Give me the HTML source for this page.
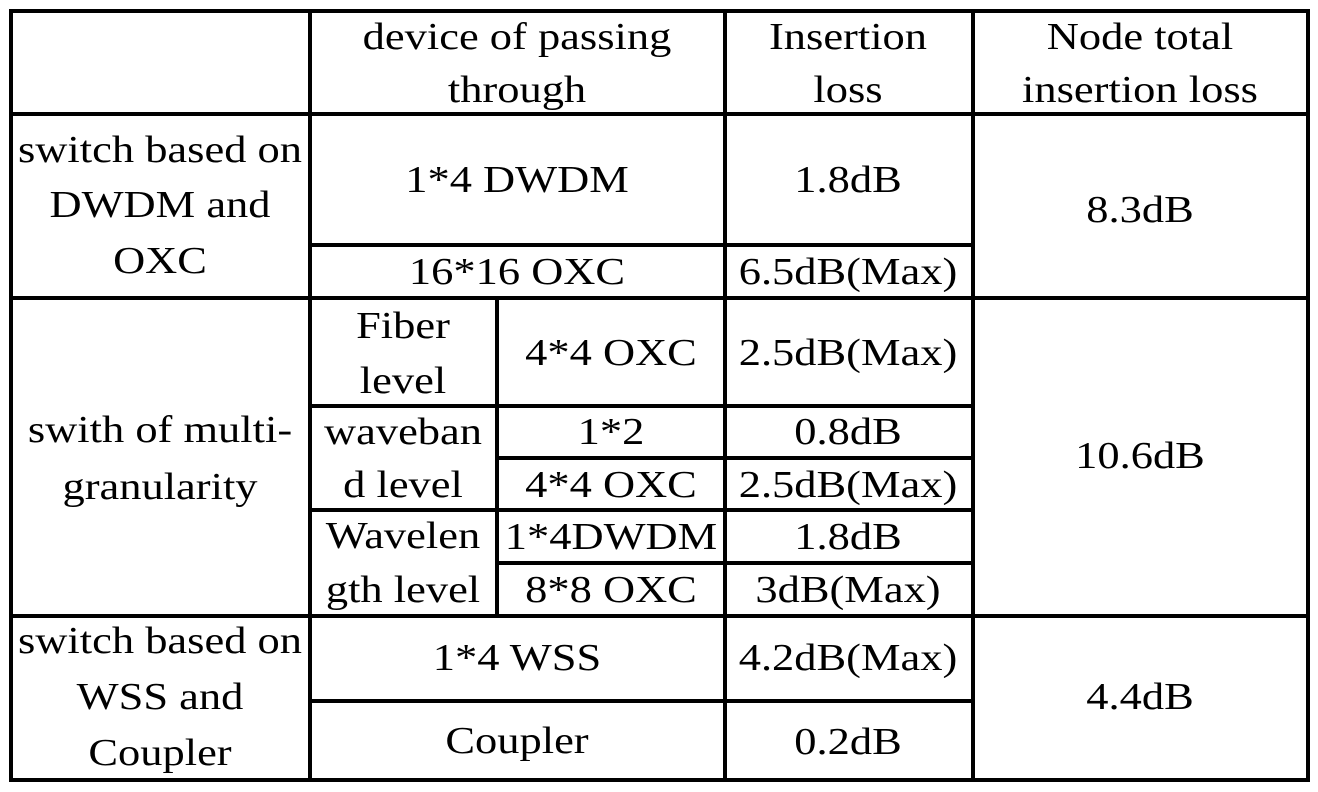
<!DOCTYPE html>
<html><head><meta charset="utf-8">
<style>
html,body{margin:0;padding:0;background:#fff;}
#t{position:relative;width:1318px;height:792px;overflow:hidden;font-family:"Liberation Serif",serif;font-size:38px;color:#000;}
.h{position:absolute;height:4px;background:#000;}
.v{position:absolute;width:4px;background:#000;}
.x{position:absolute;transform:translate(-50%,-50%) scaleX(1.17);white-space:nowrap;line-height:1;}
</style></head>
<body>
<div id="t">
<div class="h" style="left:10px;width:1300px;top:9px"></div>
<div class="h" style="left:10px;width:1300px;top:112px"></div>
<div class="h" style="left:310px;width:664px;top:243px"></div>
<div class="h" style="left:10px;width:1300px;top:296px"></div>
<div class="h" style="left:310px;width:664px;top:404px"></div>
<div class="h" style="left:497px;width:477px;top:456px"></div>
<div class="h" style="left:310px;width:664px;top:508px"></div>
<div class="h" style="left:497px;width:477px;top:561px"></div>
<div class="h" style="left:10px;width:1300px;top:614px"></div>
<div class="h" style="left:310px;width:664px;top:699px"></div>
<div class="h" style="left:10px;width:1300px;top:778px"></div>
<div class="v" style="left:9px;top:9px;height:773px"></div>
<div class="v" style="left:308px;top:9px;height:773px"></div>
<div class="v" style="left:723px;top:9px;height:773px"></div>
<div class="v" style="left:971px;top:9px;height:773px"></div>
<div class="v" style="left:1306px;top:9px;height:773px"></div>
<div class="v" style="left:495px;top:296px;height:320px"></div>

<div class="x" style="left:517px;top:37px">device of passing</div>
<div class="x" style="left:517px;top:90px">through</div>
<div class="x" style="left:848px;top:37px">Insertion</div>
<div class="x" style="left:848px;top:90px">loss</div>
<div class="x" style="left:1140px;top:37px">Node total</div>
<div class="x" style="left:1140px;top:90px">insertion loss</div>

<div class="x" style="left:160px;top:150px">switch based on</div>
<div class="x" style="left:160px;top:205px">DWDM and</div>
<div class="x" style="left:160px;top:261px">OXC</div>
<div class="x" style="left:517px;top:180px">1*4 DWDM</div>
<div class="x" style="left:848px;top:180px">1.8dB</div>
<div class="x" style="left:1140px;top:210px">8.3dB</div>
<div class="x" style="left:517px;top:272px">16*16 OXC</div>
<div class="x" style="left:848px;top:272px">6.5dB(Max)</div>

<div class="x" style="left:160px;top:430px">swith of multi-</div>
<div class="x" style="left:160px;top:487px">granularity</div>
<div class="x" style="left:403px;top:326px">Fiber</div>
<div class="x" style="left:403px;top:381px">level</div>
<div class="x" style="left:611px;top:353px">4*4 OXC</div>
<div class="x" style="left:848px;top:353px">2.5dB(Max)</div>
<div class="x" style="left:403px;top:432px">waveban</div>
<div class="x" style="left:403px;top:485px">d level</div>
<div class="x" style="left:611px;top:432px">1*2</div>
<div class="x" style="left:848px;top:432px">0.8dB</div>
<div class="x" style="left:611px;top:485px">4*4 OXC</div>
<div class="x" style="left:848px;top:485px">2.5dB(Max)</div>
<div class="x" style="left:403px;top:536px">Wavelen</div>
<div class="x" style="left:403px;top:590px">gth level</div>
<div class="x" style="left:611px;top:537px">1*4DWDM</div>
<div class="x" style="left:848px;top:537px">1.8dB</div>
<div class="x" style="left:611px;top:590px">8*8 OXC</div>
<div class="x" style="left:848px;top:590px">3dB(Max)</div>
<div class="x" style="left:1140px;top:456px">10.6dB</div>

<div class="x" style="left:160px;top:641px">switch based on</div>
<div class="x" style="left:160px;top:697px">WSS and</div>
<div class="x" style="left:160px;top:753px">Coupler</div>
<div class="x" style="left:517px;top:658px">1*4 WSS</div>
<div class="x" style="left:848px;top:658px">4.2dB(Max)</div>
<div class="x" style="left:517px;top:741px">Coupler</div>
<div class="x" style="left:848px;top:742px">0.2dB</div>
<div class="x" style="left:1140px;top:697px">4.4dB</div>
</div>
</body></html>
